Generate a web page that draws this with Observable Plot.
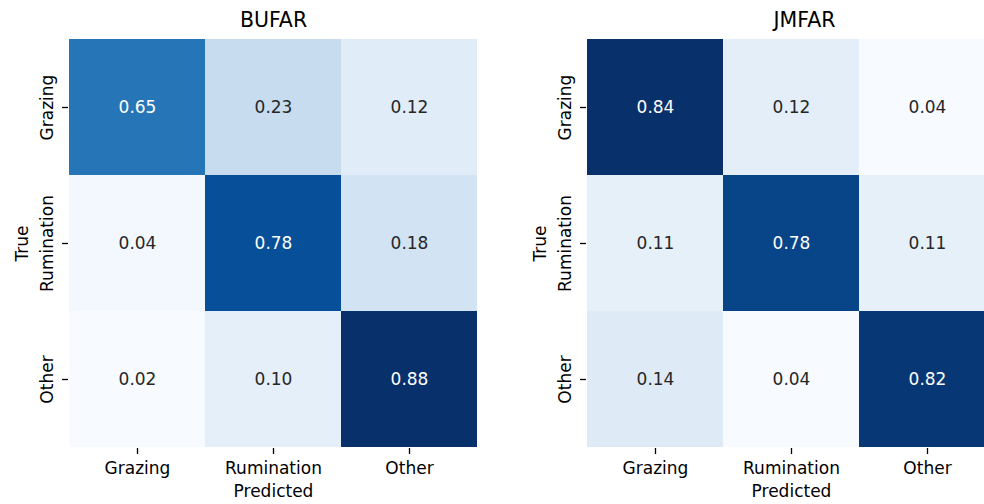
<!DOCTYPE html>
<html><head><meta charset="utf-8">
<script src="https://cdn.jsdelivr.net/npm/d3@7"></script>
<script src="https://cdn.jsdelivr.net/npm/@observablehq/plot@0.6"></script>
<style>
html,body{margin:0;padding:0;background:#fff;overflow:hidden;}
#wrap{position:relative;width:984px;height:504px;overflow:hidden;background:#fff;}
.panel{position:absolute;top:0;height:504px;}
.panel svg{max-width:none !important;}
</style></head><body><div id="wrap"></div>
<script>
const classes = ["Grazing", "Rumination", "Other"];
const titles = ["BUFAR", "JMFAR"];
const bufar = [
  [0.65, 0.23, 0.12],
  [0.04, 0.78, 0.18],
  [0.02, 0.10, 0.88]
];
const jmfar = [
  [0.84, 0.12, 0.04],
  [0.11, 0.78, 0.11],
  [0.14, 0.04, 0.82]
];
const xLabel = "Predicted";
const yLabel = "True";
const blues = ["#f7fbff","#deebf7","#c6dbef","#9ecae1","#6baed6","#4292c6","#2171b5","#08519c","#08306b"];

function panel(title, matrix, opts) {
  const data = [];
  matrix.forEach((row, i) => row.forEach((v, j) => data.push({t: classes[i], p: classes[j], v})));
  const lo = d3.min(data, d => d.v), hi = d3.max(data, d => d.v);
  const domain = blues.map((_, k) => lo + (hi - lo) * k / (blues.length - 1));
  const dark = d => (d.v - lo) / (hi - lo) > 0.5;
  return Plot.plot({
    width: opts.width, height: 504,
    marginLeft: opts.ml, marginRight: opts.mr, marginTop: 38, marginBottom: 56,
    style: {fontFamily: "DejaVu Sans", fontSize: "17px", color: "black", background: "white"},
    x: {domain: classes, padding: 0, label: null},
    y: {domain: classes, padding: 0, label: null},
    color: {type: "linear", domain, range: blues, interpolate: "rgb"},
    marks: [
      Plot.cell(data, {x: "p", y: "t", fill: "v"}),
      Plot.text(data.filter(dark), {x: "p", y: "t", text: d => d.v.toFixed(2), fill: "white", fontSize: 17}),
      Plot.text(data.filter(d => !dark(d)), {x: "p", y: "t", text: d => d.v.toFixed(2), fill: "#262626", fontSize: 17}),
      Plot.axisX({tickSize: 6, tickPadding: 7, fontSize: 17, label: null, strokeWidth: 1.3}),
      Plot.axisY({tickSize: 6, tickPadding: 10, tickRotate: -90, fontSize: 17, label: null, strokeWidth: 1.3}),
      Plot.text([title], {frameAnchor: "top", lineAnchor: "middle", textAnchor: "middle", dy: -18, dx: opts.tdx, fontSize: 20.5, fill: "black"}),
      Plot.text([xLabel], {frameAnchor: "bottom", lineAnchor: "middle", textAnchor: "middle", dy: 43, fontSize: 17, fill: "black"}),
      Plot.text([yLabel], {frameAnchor: "left", lineAnchor: "middle", textAnchor: "middle", dx: -46, rotate: -90, fontSize: 17, fill: "black"})
    ]
  });
}

const wrap = document.getElementById("wrap");
const specs = [
  {title: titles[0], m: bufar, left: 0, width: 492, ml: 68, mr: 14, tdx: 0},
  {title: titles[1], m: jmfar, left: 492, width: 504, ml: 94, mr: 0, tdx: 13}
];
for (const s of specs) {
  const div = document.createElement("div");
  div.className = "panel";
  div.style.left = s.left + "px";
  div.style.width = s.width + "px";
  div.appendChild(panel(s.title, s.m, s));
  wrap.appendChild(div);
}
</script>
</body></html>
